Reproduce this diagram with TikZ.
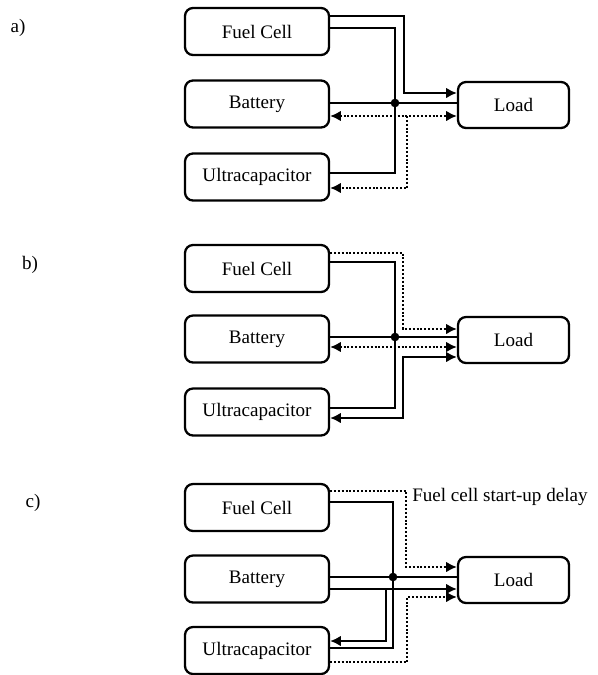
\documentclass[tikz,border=0pt]{standalone}
\usepackage{fontspec}
\setmainfont{Liberation Serif}
\usetikzlibrary{arrows.meta}
\begin{document}
\begin{tikzpicture}[x=0.75pt,y=-0.75pt,
  srcbox/.style={draw,line width=1.7pt,rounded corners=6pt,minimum width=108pt,minimum height=35.25pt,inner sep=0pt,font=\fontsize{14.3}{17}\selectfont},
  loadbox/.style={draw,line width=1.7pt,rounded corners=6pt,minimum width=83.25pt,minimum height=34.5pt,inner sep=0pt,font=\fontsize{14.3}{17}\selectfont},
  lbl/.style={font=\fontsize{14.3}{17}\selectfont,inner sep=0pt},
  pw/.style={line width=2pt},
  dotline/.style={line width=2pt,dash pattern=on 1.5pt off 1.4pt},
  tip/.style={-{Latex[length=8pt,width=8pt]}},
  tipb/.style={{Latex[length=8pt,width=8pt]}-{Latex[length=8pt,width=8pt]}},
  jdot/.style={circle,fill,inner sep=0pt,minimum size=6.5pt}]
\useasboundingbox (0,0) rectangle (598,675);
\fill[white] (0,0) rectangle (598,675);

% ---------- panel a ----------
\node[lbl] (la) at (18,28) {a)};
\node[srcbox] (fcA) at (257,31.5) {Fuel Cell};
\node[srcbox] (batA) at (257,104) {Battery};
\node[srcbox] (ucA) at (257,177) {Ultracapacitor};
\node[loadbox] (loadA) at (513.5,105) {Load};
\draw[pw,tip] (fcA.east |- 0,16) -| (404,93) -- (loadA.west |- 0,93);
\draw[pw] (fcA.east |- 0,28) -| (395,173) -- (ucA.east |- 0,173);
\draw[pw] (batA.east |- 0,103) -- (loadA.west |- 0,103);
\node[jdot] (jA) at (395,103) {};
\draw[dotline,tipb] (batA.east |- 0,116) -- (loadA.west |- 0,116);
\coordinate (dA) at (407,116);
\draw[dotline,tip] (dA) |- (ucA.east |- 0,188);

% ---------- panel b ----------
\node[lbl] (lb) at (30,265) {b)};
\node[srcbox] (fcB) at (257,268.5) {Fuel Cell};
\node[srcbox] (batB) at (257,339) {Battery};
\node[srcbox] (ucB) at (257,412) {Ultracapacitor};
\node[loadbox] (loadB) at (513.5,340) {Load};
\draw[dotline,tip] (fcB.east |- 0,253) -| (403,329) -- (loadB.west |- 0,329);
\draw[pw] (fcB.east |- 0,262) -| (395,408) -- (ucB.east |- 0,408);
\draw[pw] (batB.east |- 0,337) -- (loadB.west |- 0,337);
\node[jdot] (jB) at (395,337) {};
\draw[dotline,tipb] (batB.east |- 0,347) -- (loadB.west |- 0,347);
\draw[pw,tipb] (ucB.east |- 0,418) -| (403,357) -- (loadB.west |- 0,357);

% ---------- panel c ----------
\node[lbl] (lc) at (33,503) {c)};
\node[srcbox] (fcC) at (257,507.5) {Fuel Cell};
\node[srcbox] (batC) at (257,579) {Battery};
\node[srcbox] (ucC) at (257,650.5) {Ultracapacitor};
\node[loadbox] (loadC) at (513.5,580) {Load};
\draw[dotline,tip] (fcC.east |- 0,491) -| (406,567) -- (loadC.west |- 0,567);
\node[lbl,anchor=west] (delay) at (412,497) {Fuel cell start-up delay};
\draw[pw] (fcC.east |- 0,502) -| (393,648) -- (ucC.east |- 0,648);
\draw[pw] (batC.east |- 0,577) -- (loadC.west |- 0,577);
\node[jdot] (jC) at (393,577) {};
\draw[pw,tip] (batC.east |- 0,589) -- (loadC.west |- 0,589);
\coordinate (bC) at (386,589);
\draw[pw,tip] (bC) |- (ucC.east |- 0,641);
\draw[dotline,tip] (ucC.east |- 0,662) -| (407,597) -- (loadC.west |- 0,597);
\end{tikzpicture}
\end{document}
